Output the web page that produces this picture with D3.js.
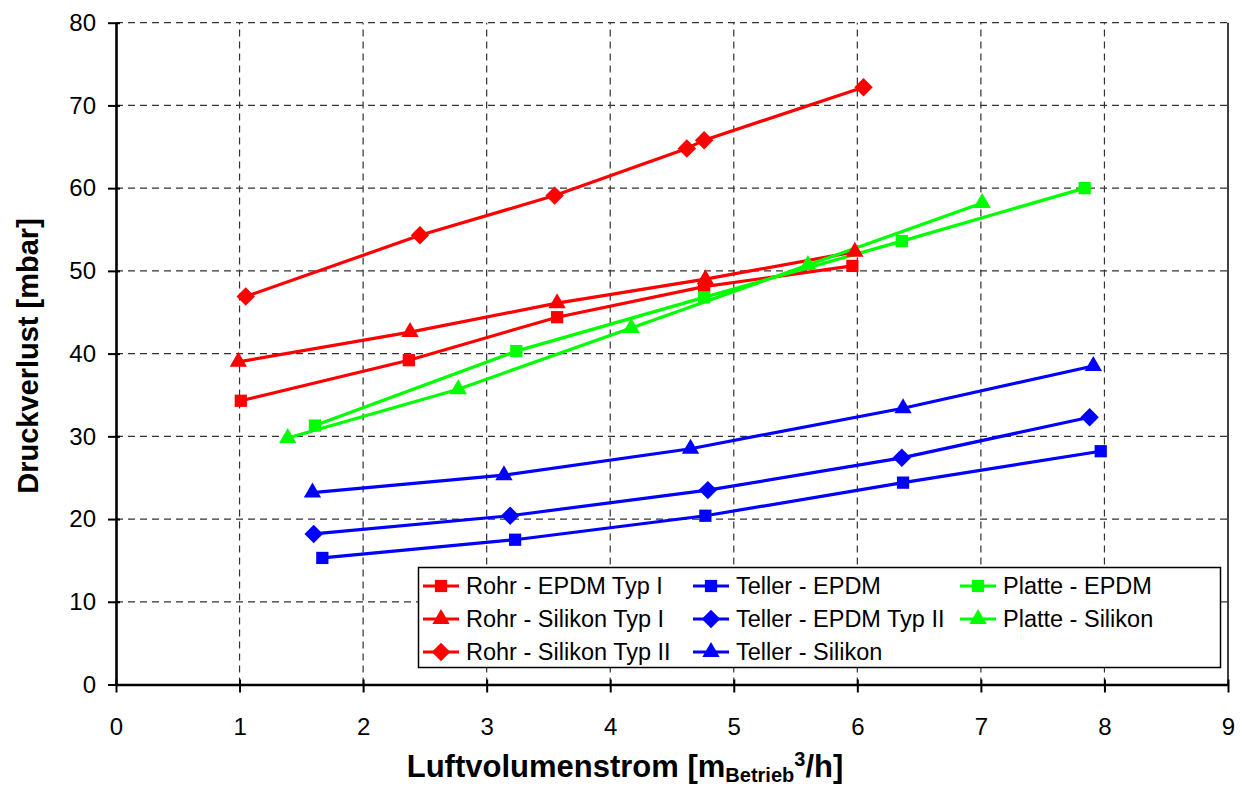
<!DOCTYPE html>
<html>
<head>
<meta charset="utf-8">
<script src="https://cdn.jsdelivr.net/npm/d3@7"></script>
<style>
  body { margin: 0; background: #fff; }
  svg { font-family: "Liberation Sans", Arial, sans-serif; }
</style>
</head>
<body>
<div id="chart"></div>
<script>
// x = Luftvolumenstrom, y = Druckverlust
const rohrEpdmIX = [1.01, 2.37, 3.57, 4.76, 5.96];
const rohrEpdmIY = [34.3, 39.2, 44.4, 48.1, 50.6];
const rohrSilIX = [0.99, 2.38, 3.57, 4.77, 5.98];
const rohrSilIY = [39.0, 42.6, 46.1, 49.0, 52.3];
const rohrSilIIX = [1.05, 2.46, 3.55, 4.62, 4.76, 6.05];
const rohrSilIIY = [46.9, 54.3, 59.1, 64.8, 65.8, 72.2];
const tellerEpdmX = [1.67, 3.23, 4.77, 6.37, 7.97];
const tellerEpdmY = [15.3, 17.5, 20.4, 24.4, 28.2];
const tellerEpdmIIX = [1.60, 3.19, 4.79, 6.36, 7.88];
const tellerEpdmIIY = [18.2, 20.4, 23.5, 27.4, 32.3];
const tellerSilX = [1.59, 3.14, 4.65, 6.37, 7.91];
const tellerSilY = [23.2, 25.3, 28.5, 33.4, 38.5];
const platteEpdmX = [1.61, 3.24, 4.76, 6.36, 7.84];
const platteEpdmY = [31.3, 40.3, 46.8, 53.6, 60.0];
const platteSilX = [1.39, 2.77, 4.17, 5.60, 7.01];
const platteSilY = [29.8, 35.7, 43.1, 50.7, 58.2];

const xTicks = [0, 1, 2, 3, 4, 5, 6, 7, 8, 9];
const yTicks = [0, 10, 20, 30, 40, 50, 60, 70, 80];

const series = [
    { name: "Rohr - EPDM Typ I", xs: rohrEpdmIX, ys: rohrEpdmIY, color: "#ff0000", shape: "square" },
    { name: "Rohr - Silikon Typ I", xs: rohrSilIX, ys: rohrSilIY, color: "#ff0000", shape: "triangle" },
    { name: "Rohr - Silikon Typ II", xs: rohrSilIIX, ys: rohrSilIIY, color: "#ff0000", shape: "diamond" },
    { name: "Teller - EPDM", xs: tellerEpdmX, ys: tellerEpdmY, color: "#0000ff", shape: "square" },
    { name: "Teller - EPDM Typ II", xs: tellerEpdmIIX, ys: tellerEpdmIIY, color: "#0000ff", shape: "diamond" },
    { name: "Teller - Silikon", xs: tellerSilX, ys: tellerSilY, color: "#0000ff", shape: "triangle" },
    { name: "Platte - EPDM", xs: platteEpdmX, ys: platteEpdmY, color: "#00ff00", shape: "square" },
    { name: "Platte - Silikon", xs: platteSilX, ys: platteSilY, color: "#00ff00", shape: "triangle" }
];

const width = 1242, height = 787;
const margin = { top: 22.7, right: 14, bottom: 102.5, left: 116 };

const svg = d3.select("#chart").append("svg")
    .attr("width", width)
    .attr("height", height);

const x = d3.scaleLinear().domain([0, 9]).range([margin.left, width - margin.right]);
const y = d3.scaleLinear().domain([0, 80]).range([height - margin.bottom, margin.top]);

// gridlines
svg.append("g").selectAll("line")
    .data(xTicks.slice(1, -1))
    .join("line")
    .attr("x1", d => x(d)).attr("x2", d => x(d))
    .attr("y1", y(0)).attr("y2", y(80))
    .attr("stroke", "#333").attr("stroke-width", 1.2)
    .attr("stroke-dasharray", "7,5");

svg.append("g").selectAll("line")
    .data(yTicks.slice(1))
    .join("line")
    .attr("x1", x(0)).attr("x2", x(9))
    .attr("y1", d => y(d)).attr("y2", d => y(d))
    .attr("stroke", "#333").attr("stroke-width", 1.2)
    .attr("stroke-dasharray", "7,5");

// right border of plot area
svg.append("line")
    .attr("x1", x(9)).attr("x2", x(9))
    .attr("y1", y(0)).attr("y2", y(80))
    .attr("stroke", "#000").attr("stroke-width", 1.5);

// axes
const xAxis = svg.append("g")
    .attr("transform", `translate(0,${y(0)})`)
    .call(d3.axisBottom(x).tickValues(xTicks).tickSize(0).tickPadding(33));
const yAxis = svg.append("g")
    .attr("transform", `translate(${x(0)},0)`)
    .call(d3.axisLeft(y).tickValues(yTicks).tickSize(0).tickPadding(20));

[xAxis, yAxis].forEach(g => {
    g.select(".domain").attr("stroke", "#000").attr("stroke-width", 2.6);
    g.selectAll("text").attr("font-size", 24).attr("fill", "#000")
        .attr("font-family", "Liberation Sans, Arial, sans-serif");
});

// crossing tick marks
xAxis.selectAll(".tick").append("line")
    .attr("y1", -5).attr("y2", 8).attr("stroke", "#000").attr("stroke-width", 2);
yAxis.selectAll(".tick").append("line")
    .attr("x1", -8).attr("x2", 4).attr("stroke", "#000").attr("stroke-width", 2);

// symbols (diamond = square turned 45 degrees, like the reference)
const diamondType = {
    draw(ctx, size) {
        const r = Math.sqrt(size / 2);
        ctx.moveTo(0, -r);
        ctx.lineTo(r, 0);
        ctx.lineTo(0, r);
        ctx.lineTo(-r, 0);
        ctx.closePath();
    }
};
const symbolFor = {
    square: d3.symbol().type(d3.symbolSquare).size(150),
    triangle: d3.symbol().type(d3.symbolTriangle).size(130),
    diamond: d3.symbol().type(diamondType).size(170)
};

const line = d3.line().x(d => x(d[0])).y(d => y(d[1]));

// lines first, markers on top
series.forEach(s => {
    const pts = s.xs.map((v, i) => [v, s.ys[i]]);
    svg.append("path")
        .datum(pts)
        .attr("fill", "none")
        .attr("stroke", s.color)
        .attr("stroke-width", 3.2)
        .attr("d", line);
});

series.forEach(s => {
    const pts = s.xs.map((v, i) => [v, s.ys[i]]);
    svg.append("g").selectAll("path")
        .data(pts)
        .join("path")
        .attr("transform", d => `translate(${x(d[0])},${y(d[1])})`)
        .attr("d", symbolFor[s.shape]())
        .attr("fill", s.color);
});

// legend
const legend = svg.append("g");
legend.append("rect")
    .attr("x", 418.5).attr("y", 567.5)
    .attr("width", 802).attr("height", 100)
    .attr("fill", "#fff").attr("stroke", "#000").attr("stroke-width", 1.5);

const colX = [423, 693, 960];
const rowY = [586, 619, 652];
series.forEach((s, i) => {
    const col = i < 3 ? 0 : (i < 6 ? 1 : 2);
    const row = i < 3 ? i : (i < 6 ? i - 3 : i - 6);
    const lx = colX[col], ly = rowY[row];
    legend.append("line")
        .attr("x1", lx).attr("x2", lx + 36)
        .attr("y1", ly).attr("y2", ly)
        .attr("stroke", s.color).attr("stroke-width", 3.2);
    legend.append("path")
        .attr("transform", `translate(${lx + 18},${ly})`)
        .attr("d", symbolFor[s.shape]())
        .attr("fill", s.color);
    legend.append("text")
        .attr("x", lx + 43).attr("y", ly)
        .attr("dy", "0.36em")
        .attr("font-size", 23.5)
        .text(s.name);
});

// axis titles
svg.append("text")
    .attr("transform", `translate(38,356) rotate(-90)`)
    .attr("text-anchor", "middle")
    .attr("font-size", 29)
    .attr("font-weight", "bold")
    .text("Druckverlust [mbar]");

const xt = svg.append("text")
    .attr("x", 625).attr("y", 777)
    .attr("text-anchor", "middle")
    .attr("font-size", 31)
    .attr("font-weight", "bold");
xt.append("tspan").text("Luftvolumenstrom [m");
xt.append("tspan").attr("font-size", 20).attr("dy", 5).text("Betrieb");
xt.append("tspan").attr("font-size", 20).attr("dy", -16).text("3");
xt.append("tspan").attr("dy", 11).text("/h]");
</script>
</body>
</html>
